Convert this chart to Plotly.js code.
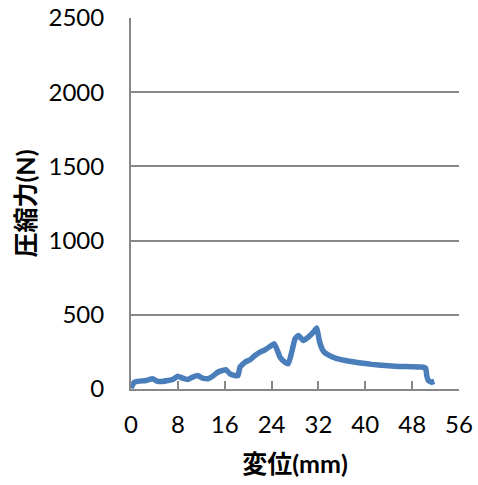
<!DOCTYPE html>
<html>
<head>
<meta charset="utf-8">
<script src="https://cdn.plot.ly/plotly-3.0.1.min.js"></script>
<style>
  html, body { margin: 0; padding: 0; background: #ffffff; }
  #chart { width: 478px; height: 485px; }
</style>
</head>
<body>
<div id="chart"></div>
<script>
// Displacement (mm) and compressive force (N) of the compression test
const displacementMm = [
  0.0, 0.56, 1.42, 2.56, 3.70, 4.56, 5.41, 6.27, 7.12, 7.97,
  8.83, 9.68, 10.53, 11.39, 12.24, 13.10, 13.95, 14.80, 15.66, 16.2,
  16.9, 17.76, 18.27, 18.61, 19.46, 20.32, 21.17, 22.03, 22.88, 23.73,
  24.42, 24.88, 25.44, 26.29, 26.86, 27.44, 28.0, 28.57, 29.42, 30.27,
  31.13, 31.71, 31.93, 32.15, 32.49, 32.90, 33.75, 34.88, 36.59, 38.88,
  41.15, 43.37, 45.64, 47.93, 49.63, 50.32, 50.49, 50.76, 51.34, 51.78
];
const forceN = [
  7, 46, 53, 57, 69, 51, 51, 57, 64, 86,
  73, 64, 80, 91, 73, 69, 86, 113, 125, 130,
  102, 91, 91, 147, 181, 197, 226, 248, 264, 286,
  305, 271, 214, 181, 170, 248, 338, 360, 327, 349,
  383, 412, 372, 327, 282, 252, 228, 208, 192, 177,
  166, 158, 152, 150, 148, 140, 91, 57, 46, 51
];

const xTickVals = [0, 8, 16, 24, 32, 40, 48, 56];
const yTickVals = [0, 500, 1000, 1500, 2000, 2500];
const xTitle = '<b>変位(mm)</b>';
const yTitle = '<b>圧縮力(N)</b>';

const axisGrey = '#878787';
const baseFont = 'Lato, "Noto Sans CJK JP", sans-serif';

const trace = {
  x: displacementMm,
  y: forceN,
  type: 'scatter',
  mode: 'lines',
  line: { color: '#4a7ebb', width: 5.5, shape: 'spline', smoothing: 0.35 },
  hoverinfo: 'skip'
};

const layout = {
  width: 478,
  height: 485,
  margin: { l: 131, r: 19, t: 18, b: 96 },
  paper_bgcolor: '#ffffff',
  plot_bgcolor: '#ffffff',
  showlegend: false,
  font: { family: baseFont, color: '#000000', size: 24 },
  xaxis: {
    range: [0, 56],
    tickvals: xTickVals,
    ticktext: xTickVals.map(String),
    showgrid: false,
    zeroline: false,
    showline: true,
    linecolor: axisGrey,
    linewidth: 2,
    ticks: 'inside',
    ticklen: 8,
    tickwidth: 2,
    tickcolor: axisGrey,
    ticklabelstandoff: 13,
    tickfont: { family: baseFont, size: 24, color: '#000000' },
    title: { text: xTitle, font: { family: baseFont, size: 25, color: '#000000' }, standoff: 19 }
  },
  yaxis: {
    range: [0, 2500],
    tickvals: yTickVals,
    ticktext: yTickVals.map(String),
    showgrid: true,
    gridcolor: axisGrey,
    gridwidth: 2,
    zeroline: false,
    showline: true,
    linecolor: axisGrey,
    linewidth: 2,
    ticks: '',
    ticklabelstandoff: 20,
    tickfont: { family: baseFont, size: 24, color: '#000000' },
    title: { text: yTitle, font: { family: baseFont, size: 25, color: '#000000' }, standoff: 6 }
  }
};

Plotly.newPlot('chart', [trace], layout, { staticPlot: true, displayModeBar: false });
</script>
</body>
</html>
